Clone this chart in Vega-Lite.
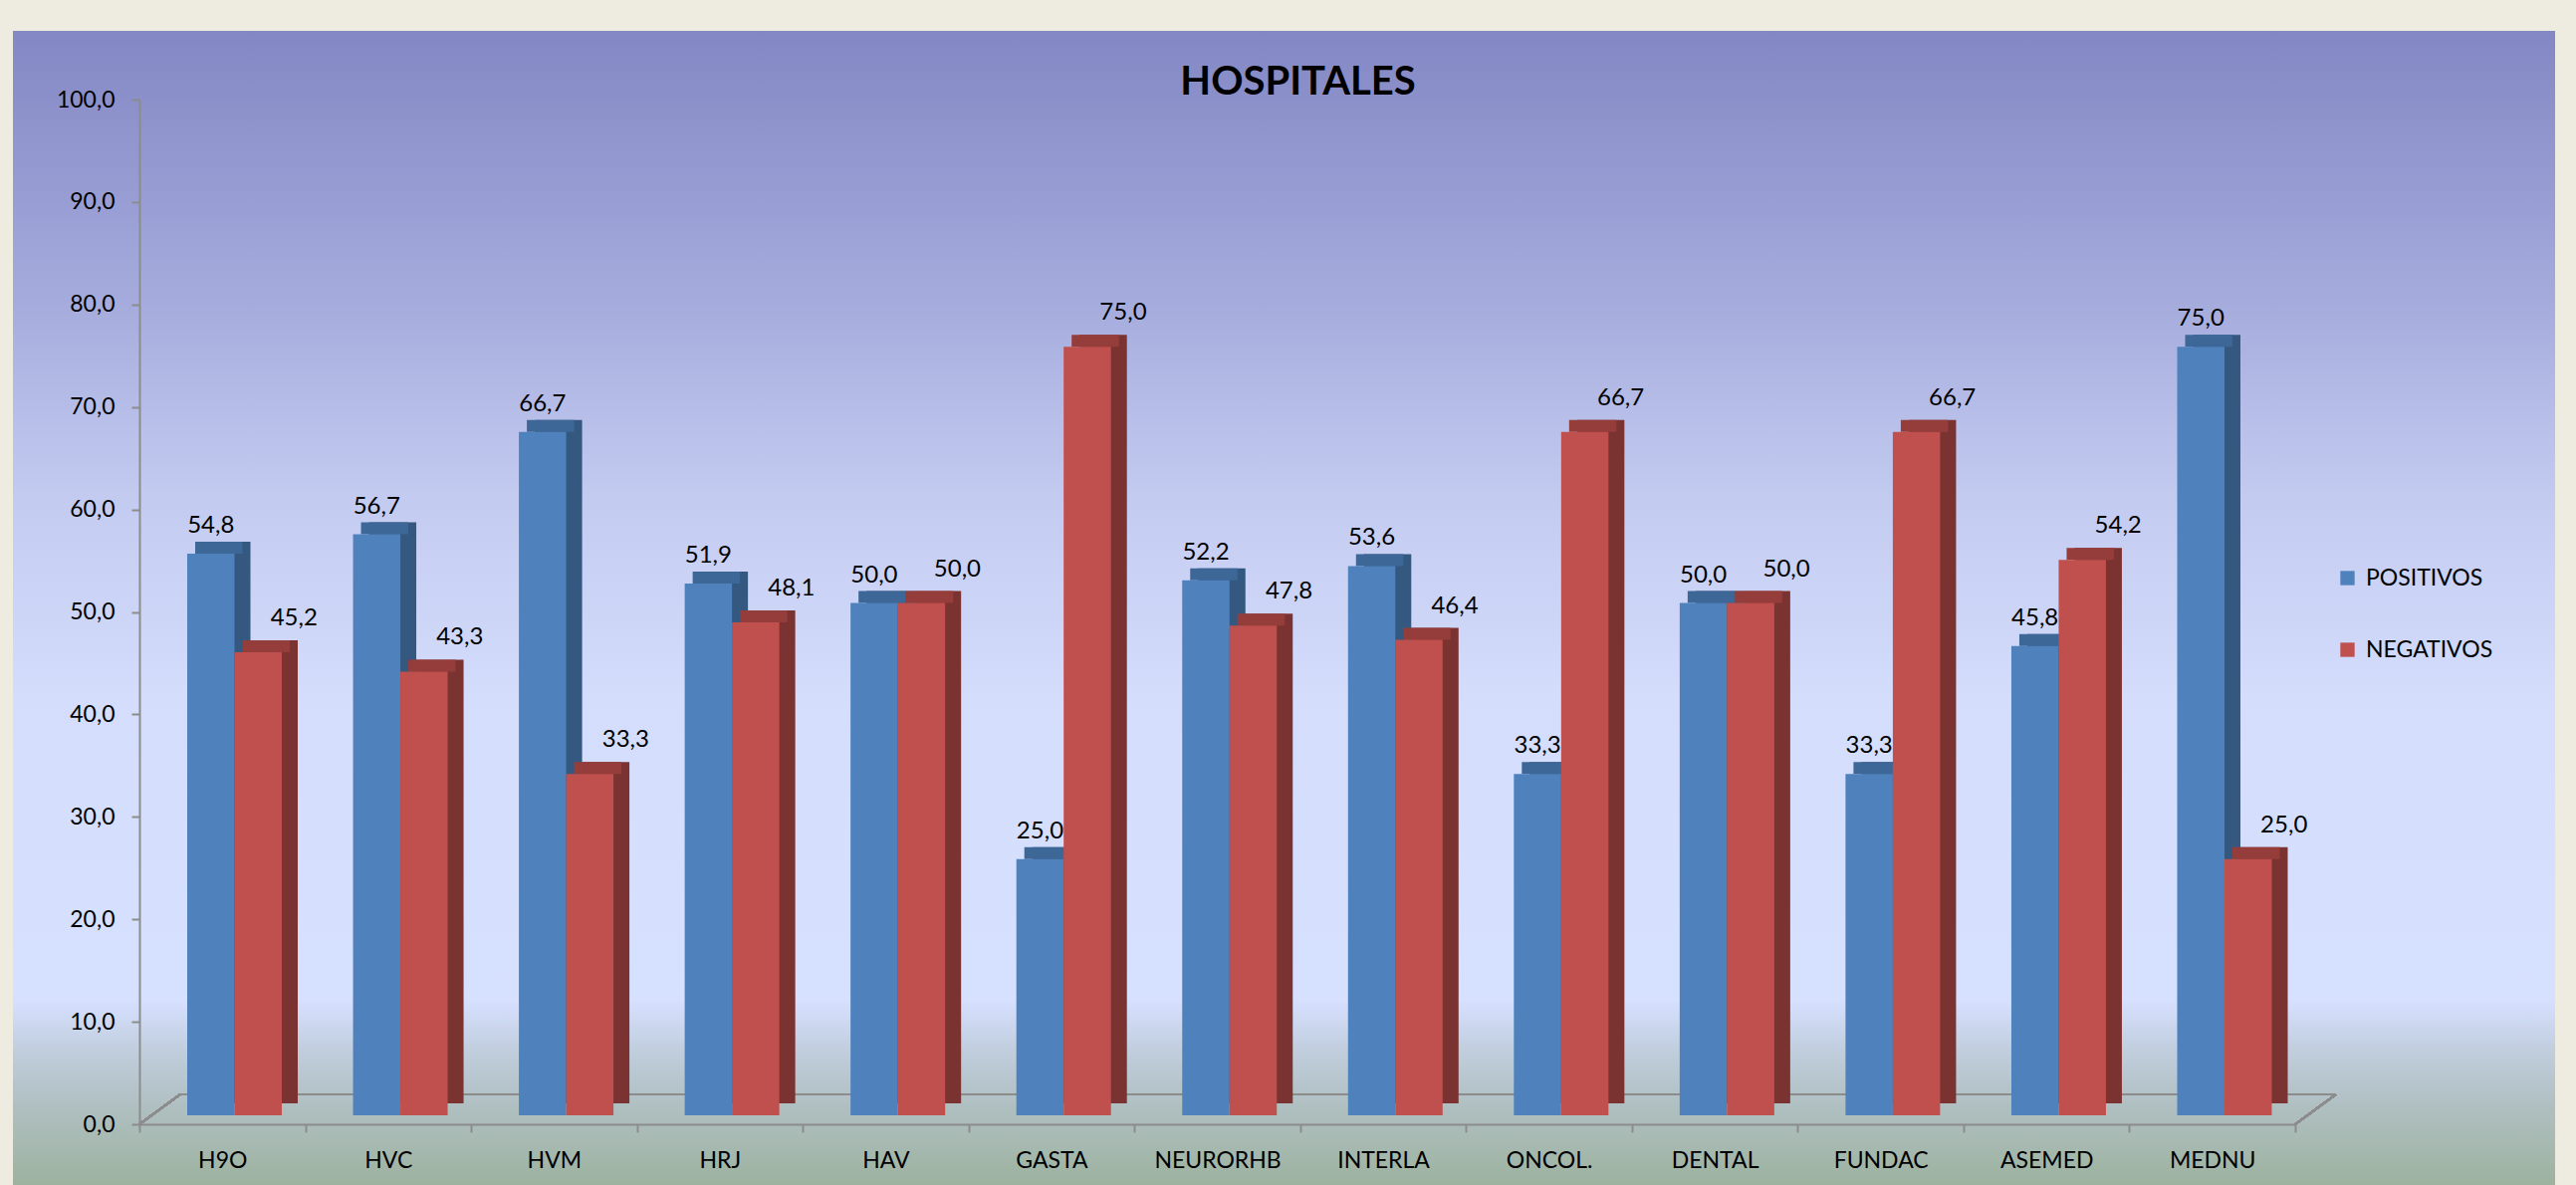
{
  "$schema": "https://vega.github.io/schema/vega-lite/v6.json",
  "width": 2553,
  "height": 1159,
  "autosize": "none",
  "padding": {"left": 13, "top": 31, "right": 21, "bottom": 0},
  "background": "#EEEBE0",
  "title": {"text": "HOSPITALES", "anchor": "middle", "font": "Lato", "fontSize": 40, "fontWeight": "bold", "color": "#000000", "offset": -104, "baseline": "alphabetic", "dx": 14},
  "data": {"values": [
    {"hospital": "H9O", "serie": "POSITIVOS", "valor": 54.8},
    {"hospital": "H9O", "serie": "NEGATIVOS", "valor": 45.2},
    {"hospital": "HVC", "serie": "POSITIVOS", "valor": 56.7},
    {"hospital": "HVC", "serie": "NEGATIVOS", "valor": 43.3},
    {"hospital": "HVM", "serie": "POSITIVOS", "valor": 66.7},
    {"hospital": "HVM", "serie": "NEGATIVOS", "valor": 33.3},
    {"hospital": "HRJ", "serie": "POSITIVOS", "valor": 51.9},
    {"hospital": "HRJ", "serie": "NEGATIVOS", "valor": 48.1},
    {"hospital": "HAV", "serie": "POSITIVOS", "valor": 50.0},
    {"hospital": "HAV", "serie": "NEGATIVOS", "valor": 50.0},
    {"hospital": "GASTA", "serie": "POSITIVOS", "valor": 25.0},
    {"hospital": "GASTA", "serie": "NEGATIVOS", "valor": 75.0},
    {"hospital": "NEURORHB", "serie": "POSITIVOS", "valor": 52.2},
    {"hospital": "NEURORHB", "serie": "NEGATIVOS", "valor": 47.8},
    {"hospital": "INTERLA", "serie": "POSITIVOS", "valor": 53.6},
    {"hospital": "INTERLA", "serie": "NEGATIVOS", "valor": 46.4},
    {"hospital": "ONCOL.", "serie": "POSITIVOS", "valor": 33.3},
    {"hospital": "ONCOL.", "serie": "NEGATIVOS", "valor": 66.7},
    {"hospital": "DENTAL", "serie": "POSITIVOS", "valor": 50.0},
    {"hospital": "DENTAL", "serie": "NEGATIVOS", "valor": 50.0},
    {"hospital": "FUNDAC", "serie": "POSITIVOS", "valor": 33.3},
    {"hospital": "FUNDAC", "serie": "NEGATIVOS", "valor": 66.7},
    {"hospital": "ASEMED", "serie": "POSITIVOS", "valor": 45.8},
    {"hospital": "ASEMED", "serie": "NEGATIVOS", "valor": 54.2},
    {"hospital": "MEDNU", "serie": "POSITIVOS", "valor": 75.0},
    {"hospital": "MEDNU", "serie": "NEGATIVOS", "valor": 25.0}
  ]},
  "encoding": {
    "x": {"field": "hospital", "type": "nominal", "sort": null,
      "scale": {"type": "band", "domain": ["H9O", "HVC", "HVM", "HRJ", "HAV", "GASTA", "NEURORHB", "INTERLA", "ONCOL.", "DENTAL", "FUNDAC", "ASEMED", "MEDNU"], "range": [127, 2292], "paddingInner": 0, "paddingOuter": 0},
      "axis": {"title": null, "orient": "bottom", "offset": -61, "labelAngle": 0, "tickBand": "extent",
        "domainColor": "#8C8C8C", "domainWidth": 2, "tickColor": "#8C8C8C", "tickWidth": 2, "tickSize": 8,
        "labelFont": "Lato", "labelFontSize": 23, "labelColor": "#000000", "labelPadding": 17, "grid": false}},
    "y": {"field": "valor", "type": "quantitative",
      "scale": {"domain": [0, 100], "range": [1098, 69], "nice": false, "zero": true},
      "axis": {"title": null, "offset": -127, "values": [0, 10, 20, 30, 40, 50, 60, 70, 80, 90, 100], "format": ".1f",
        "domainColor": "#8C8C8C", "domainWidth": 2, "tickColor": "#8C8C8C", "tickWidth": 2, "tickSize": 8,
        "labelFont": "Lato", "labelFontSize": 23, "labelColor": "#000000", "labelPadding": 17, "grid": false}}
  },
  "layer": [
    {"mark": {"type": "rule", "color": "#8C8C8C", "strokeWidth": 2, "xOffset": -42.27, "x2Offset": 124.27, "yOffset": -30},
     "encoding": {"x": {"datum": "H9O"}, "x2": {"datum": "MEDNU"}, "y": {"datum": 0}}},
    {"mark": {"type": "rule", "color": "#8C8C8C", "strokeWidth": 2, "xOffset": -83.27, "x2Offset": -42.27, "y2Offset": -30},
     "encoding": {"x": {"datum": "H9O"}, "x2": {"datum": "H9O"}, "y": {"datum": 0}, "y2": {"datum": 0}}},
    {"mark": {"type": "rule", "color": "#8C8C8C", "strokeWidth": 2, "xOffset": 83.27, "x2Offset": 124.27, "y2Offset": -30},
     "encoding": {"x": {"datum": "MEDNU"}, "x2": {"datum": "MEDNU"}, "y": {"datum": 0}, "y2": {"datum": 0}}},

    {"transform": [{"filter": "datum.serie === 'POSITIVOS'"}],
     "mark": {"type": "bar", "width": 47.5, "color": "#34587F", "xOffset": 4.5, "yOffset": -21, "y2Offset": -21}},
    {"transform": [{"filter": "datum.serie === 'POSITIVOS'"}],
     "mark": {"type": "bar", "width": 47.5, "color": "#3D6797", "xOffset": -3.5, "yOffset": -21, "y2Offset": -9},
     "encoding": {"y2": {"field": "valor"}}},
    {"transform": [{"filter": "datum.serie === 'POSITIVOS'"}],
     "mark": {"type": "bar", "width": 47.5, "xOffset": -11.5, "yOffset": -9, "y2Offset": -9},
     "encoding": {"color": {"field": "serie", "type": "nominal",
       "scale": {"domain": ["POSITIVOS", "NEGATIVOS"], "range": ["#4F81BD", "#C0504D"]},
       "legend": {"title": null, "orient": "none", "legendX": 2333, "legendY": 538, "padding": 0,
         "symbolType": "square", "symbolSize": 205, "symbolStrokeWidth": 0, "rowPadding": 48,
         "labelFont": "Lato", "labelFontSize": 23, "labelColor": "#000000", "labelOffset": 7}}}},

    {"transform": [{"filter": "datum.serie === 'NEGATIVOS'"}],
     "mark": {"type": "bar", "width": 47.5, "color": "#7A3331", "xOffset": 52, "yOffset": -21, "y2Offset": -21}},
    {"transform": [{"filter": "datum.serie === 'NEGATIVOS'"}],
     "mark": {"type": "bar", "width": 47.5, "color": "#953D3B", "xOffset": 44, "yOffset": -21, "y2Offset": -9},
     "encoding": {"y2": {"field": "valor"}}},
    {"transform": [{"filter": "datum.serie === 'NEGATIVOS'"}],
     "mark": {"type": "bar", "width": 47.5, "xOffset": 36, "yOffset": -9, "y2Offset": -9},
     "encoding": {"color": {"field": "serie", "type": "nominal"}}},

    {"transform": [{"filter": "datum.serie === 'POSITIVOS'"}],
     "mark": {"type": "text", "font": "Lato", "fontSize": 24, "color": "#000000", "baseline": "middle", "align": "center", "xOffset": -11.5, "yOffset": -37},
     "encoding": {"text": {"field": "valor", "type": "quantitative", "format": ".1f"}}},
    {"transform": [{"filter": "datum.serie === 'NEGATIVOS'"}],
     "mark": {"type": "text", "font": "Lato", "fontSize": 24, "color": "#000000", "baseline": "middle", "align": "center", "xOffset": 72, "yOffset": -43},
     "encoding": {"text": {"field": "valor", "type": "quantitative", "format": ".1f"}}}
  ],
  "config": {
    "locale": {"number": {"decimal": ",", "thousands": ".", "grouping": [3], "currency": ["", " €"]}},
    "view": {"stroke": null, "fill": {"gradient": "linear", "x1": 0, "y1": 0, "x2": 0, "y2": 1, "stops": [
      {"offset": 0, "color": "#8387C4"},
      {"offset": 0.23, "color": "#A4ABDC"},
      {"offset": 0.40, "color": "#C3CAF0"},
      {"offset": 0.58, "color": "#D4DDFC"},
      {"offset": 0.84, "color": "#D6E0FF"},
      {"offset": 0.885, "color": "#C0CDDC"},
      {"offset": 0.93, "color": "#B0C0C2"},
      {"offset": 1, "color": "#9DB29F"}
    ]}}
  }
}
